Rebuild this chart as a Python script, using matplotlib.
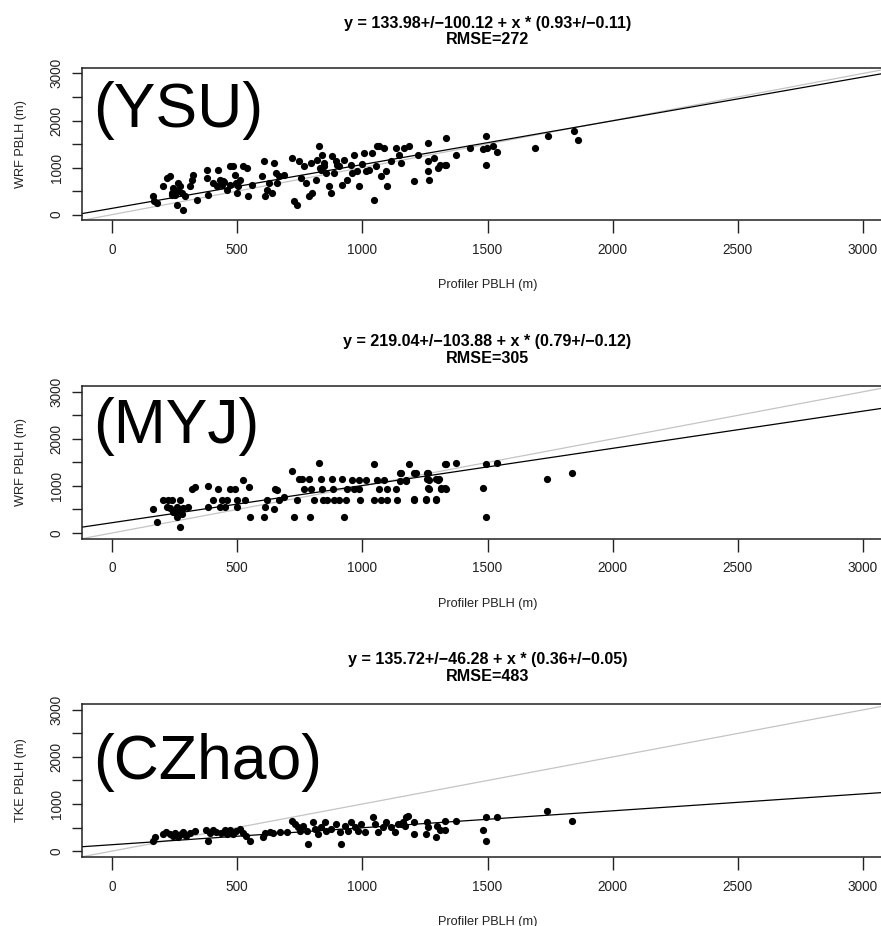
import matplotlib
matplotlib.use('Agg')
import matplotlib.pyplot as plt
import numpy as np

plt.rcParams['font.family'] = ['Liberation Sans', 'DejaVu Sans']

# profiler vs model PBLH (m)
ysu_x = [164, 167, 178, 204, 218, 231, 238, 245, 251, 258, 265, 271, 278, 285, 291, 311, 318, 325,
         338, 378, 381, 385, 405, 418, 425, 432, 439, 445, 458, 472, 485, 492, 496, 499, 505, 512,
         525, 539, 545, 559, 599, 606, 612, 619, 626, 639, 646, 653, 657, 666, 686, 719, 726, 739,
         746, 753, 766, 773, 786, 793, 799, 813, 819, 826, 833, 839, 846, 853, 866, 873, 880, 886,
         893, 906, 920, 926, 940, 953, 960, 967, 980, 987, 1007, 1027, 1040, 1047, 1054, 1060, 1067,
         1074, 1087, 1094, 1100, 1114, 1134, 1147, 1154, 1167, 1187, 1207, 1221, 1261, 1261, 1261,
         1267, 1287, 1301, 1334, 1334, 1309, 1329, 1373, 1429, 1480, 1494, 1496, 1494, 1523, 1539,
         1691, 1740, 1844, 1860, 240, 262, 448, 470, 830, 845, 900, 1000, 1015]
ysu_y = [390, 284, 248, 603, 780, 815, 461, 567, 425, 213, 674, 603, 461, 106, 390, 603, 744, 851,
         319, 957, 780, 425, 674, 603, 957, 744, 638, 709, 532, 1028, 1028, 851, 674, 461, 603, 744,
         1028, 993, 390, 638, 815, 1134, 390, 532, 674, 461, 1099, 886, 674, 815, 851, 1205, 284, 213,
         1134, 780, 1028, 674, 390, 1099, 461, 744, 1170, 1453, 957, 1276, 1028, 886, 603, 461, 1241, 886,
         1134, 1028, 638, 1170, 744, 1063, 886, 1276, 922, 603, 1312, 957, 1312, 319, 1028, 1453, 1453,
         815, 1418, 922, 603, 1134, 1418, 1276, 1099, 1418, 1453, 709, 1276, 1524, 1134, 922,
         744, 1205, 993, 1631, 1063, 1060, 1060, 1273, 1415, 1394, 1678, 1415, 1060, 1465, 1323,
         1415, 1678, 1770, 1593, 420, 500, 700, 640, 1000, 1100, 1060, 1080, 930]

myj_x = [164, 178, 205, 218, 225, 238, 231, 245, 258, 258, 265, 271, 271, 278, 285, 305, 318, 332,
         385, 385, 405, 425, 432, 439, 452, 458, 472, 492, 499, 499, 525, 532, 546, 550, 606, 612,
         619, 646, 649, 659, 666, 686, 719, 726, 739, 746, 759, 766, 786, 790, 793, 806, 826, 833,
         839, 843, 859, 880, 884, 886, 906, 920, 926, 933, 940, 960, 967, 987, 987, 991, 1013, 1047,
         1047, 1060, 1067, 1074, 1087, 1100, 1100, 1134, 1140, 1154, 1174, 1187, 1207, 1214, 1254,
         1261, 1267, 1267, 1294, 1301, 1314, 1334, 1334, 1149, 1205, 1173, 1149, 1205, 1253, 1259,
         1259, 1263, 1293, 1296, 1307, 1316, 1329, 1329, 1373, 1482, 1493, 1493, 1536, 1738, 1839]
myj_y = [500, 239, 711, 556, 711, 711, 521, 451, 556, 345, 451, 711, 134, 401, 521, 556, 943, 979,
         993, 556, 711, 943, 556, 711, 556, 711, 943, 943, 711, 556, 1133, 711, 979, 345, 345, 556,
         711, 500, 943, 908, 711, 767, 1316, 345, 711, 1154, 1154, 943, 1154, 345, 943, 711, 1485, 1154,
         943, 711, 711, 1154, 943, 711, 711, 1154, 345, 711, 943, 1133, 943, 1133, 943, 711, 1119, 1457,
         711, 1133, 943, 711, 1133, 943, 711, 943, 711, 1274, 1133, 1457, 711, 1274, 711,
         1274, 1133, 943, 711, 1133, 943, 1457, 943, 1280, 1280, 1110, 1110, 715, 715, 1280,
         1140, 949, 715, 1140, 1140, 949, 949, 1465, 1493, 949, 1465, 346, 1493, 1140, 1280]

czhao_x = [164, 171, 204, 217, 231, 244, 251, 264, 277, 284, 297, 311, 330, 377, 384, 390, 404, 417,
           437, 450, 460, 470, 484, 497, 510, 524, 537, 550, 604, 610, 630, 643, 670, 697, 717, 730,
           743, 750, 763, 783, 777, 803, 810, 823, 836, 850, 856, 876, 896, 910, 916, 930, 943, 956,
           969, 983, 996, 1010, 1043, 1050, 1063, 1083, 1096, 1116, 1129, 1143, 1163, 1176, 1183,
           1156, 1169, 1205, 1205, 1253, 1259, 1263, 1293, 1300, 1311, 1329, 1329, 1373, 1482, 1493,
           1493, 1536, 1738, 1839]
czhao_y = [220, 291, 363, 398, 363, 327, 377, 291, 363, 398, 327, 377, 434, 448, 220, 377, 448, 398,
           377, 448, 363, 448, 363, 434, 470, 377, 327, 220, 291, 377, 398, 377, 398, 398, 648, 577,
           505, 434, 541, 149, 434, 612, 470, 363, 505, 612, 434, 470, 577, 398, 149, 541, 434, 612,
           505, 434, 577, 398, 732, 577, 398, 505, 612, 505, 398, 577, 612, 718, 755,
           577, 541, 612, 363, 363, 612, 505, 291, 541, 449, 449, 633, 633, 449, 733,
           205, 733, 847, 633]

panel_names = ['(YSU)', '(MYJ)', '(CZhao)']
ylabels = ['WRF PBLH (m)', 'WRF PBLH (m)', 'TKE PBLH (m)']
intercepts = [133.98, 219.04, 135.72]
intercept_err = [100.12, 103.88, 46.28]
slopes = [0.93, 0.79, 0.36]
slope_err = [0.11, 0.12, 0.05]
rmse = [272, 305, 483]
name_y = [1860, 1920, 1540]

xs = [ysu_x, myj_x, czhao_x]
ys = [ysu_y, myj_y, czhao_y]

fig = plt.figure(figsize=(8.81, 9.26), dpi=100)
bottoms = [0.7621, 0.4183, 0.0748]

for i in range(3):
    ax = fig.add_axes([0.0931, bottoms[i], 0.9206, 0.1647])
    ax.set_xlim(-120, 3120)
    ax.set_ylim(-120, 3120)
    line = np.array([-120, 3120])
    ax.plot(line, line, color='#c4c4c4', lw=0.9, zorder=1)
    ax.plot(line, intercepts[i] + slopes[i] * line, color='black', lw=0.9, zorder=2)
    ax.plot(xs[i], ys[i], 'o', color='black', ms=5.2, mew=0, zorder=3)

    ax.set_xticks([0, 500, 1000, 1500, 2000, 2500, 3000])
    ax.set_yticks([0, 1000, 2000, 3000])
    ax.set_yticks([500, 1500, 2500], minor=True)
    ax.tick_params(axis='x', direction='out', length=9.4, width=1.0, pad=7, labelsize=9.8, colors='#222222')
    ax.tick_params(axis='y', which='both', direction='out', length=7.2, width=1.0, pad=6, labelsize=9.8,
                   colors='#222222')
    ax.tick_params(axis='y', which='minor', labelleft=False)
    for lbl in ax.get_yticklabels():
        lbl.set_rotation(90)
        lbl.set_va('center')
    for s in ax.spines.values():
        s.set_linewidth(1.1)
        s.set_color('#222222')

    ax.set_xlabel('Profiler PBLH (m)', fontsize=9.2, labelpad=16, color='#222222')
    ax.set_ylabel(ylabels[i], fontsize=9.2, labelpad=16, color='#222222')
    title = 'y = %.2f+/\u2212%.2f + x * (%.2f+/\u2212%.2f)\nRMSE=%d' % (
        intercepts[i], intercept_err[i], slopes[i], slope_err[i], rmse[i])
    ax.set_title(title, fontsize=11.6, fontweight='bold', pad=17, linespacing=1.12)
    ax.text(-75, name_y[i], panel_names[i], fontsize=45, ha='left', va='baseline', zorder=4)

fig.savefig('out.png', dpi=100)
